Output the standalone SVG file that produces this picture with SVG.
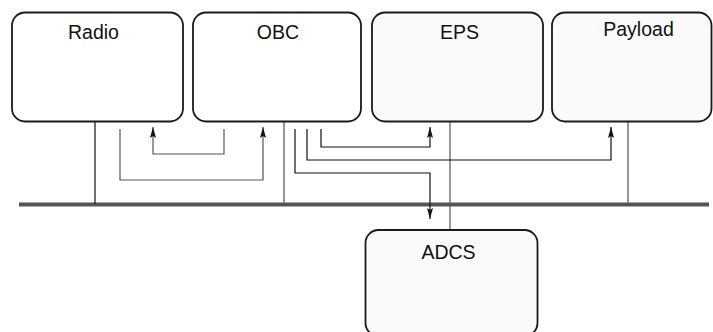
<svg xmlns="http://www.w3.org/2000/svg" width="713" height="332" viewBox="0 0 713 332">
<style>
.box{stroke:#1a1a1a;stroke-width:1.8}
.w{fill:#ffffff}
.g{fill:#fafafa}
.lbl{font-family:"Liberation Sans",Arial,sans-serif;font-size:19.5px;fill:#111;text-anchor:middle}
.c{fill:none;stroke-width:1.2}
.k{stroke:#111}
.gr{stroke:#555}
</style>
<defs>
<marker id="ah" markerUnits="userSpaceOnUse" markerWidth="12" markerHeight="8" refX="11" refY="4" orient="auto">
<path d="M0,1 L11,4 L0,7 L2,4 z" fill="#111"/>
</marker>
</defs>
<rect x="0" y="0" width="713" height="332" fill="#ffffff"/>
<g id="bus">
<line x1="19" y1="204.5" x2="709" y2="204.5" stroke="#555" stroke-width="4"/>
</g>
<g id="connectors">
<path class="c k" d="M95,121 V204"/>
<path class="c gr" d="M284,121 V204"/>
<path class="c gr" d="M450,121 V230"/>
<path class="c gr" d="M628,121 V204"/>
<path class="c gr" d="M120,129 V180 H263 V127" marker-end="url(#ah)"/>
<path class="c gr" d="M224,129 V154 H153 V127" marker-end="url(#ah)"/>
<path class="c k" d="M295,129 V173 H430 V219" marker-end="url(#ah)"/>
<path class="c k" d="M307,129 V160 H611 V127" marker-end="url(#ah)"/>
<path class="c k" d="M321,129 V147 H430 V127" marker-end="url(#ah)"/>
</g>
<g id="radio">
<rect class="box w" x="12" y="12.5" width="171" height="109" rx="13"/>
<text class="lbl" x="93.5" y="39">Radio</text>
</g>
<g id="obc">
<rect class="box w" x="193" y="12.5" width="168" height="109" rx="13"/>
<text class="lbl" x="278" y="39">OBC</text>
</g>
<g id="eps">
<rect class="box g" x="372" y="12.5" width="171" height="109" rx="13"/>
<text class="lbl" x="459.5" y="39">EPS</text>
</g>
<g id="payload">
<rect class="box g" x="552" y="12.5" width="159.5" height="109" rx="13"/>
<text class="lbl" x="638.5" y="36">Payload</text>
</g>
<g id="adcs">
<rect class="box g" x="365.5" y="230" width="172" height="106" rx="13"/>
<text class="lbl" x="448.5" y="259">ADCS</text>
</g>
</svg>
